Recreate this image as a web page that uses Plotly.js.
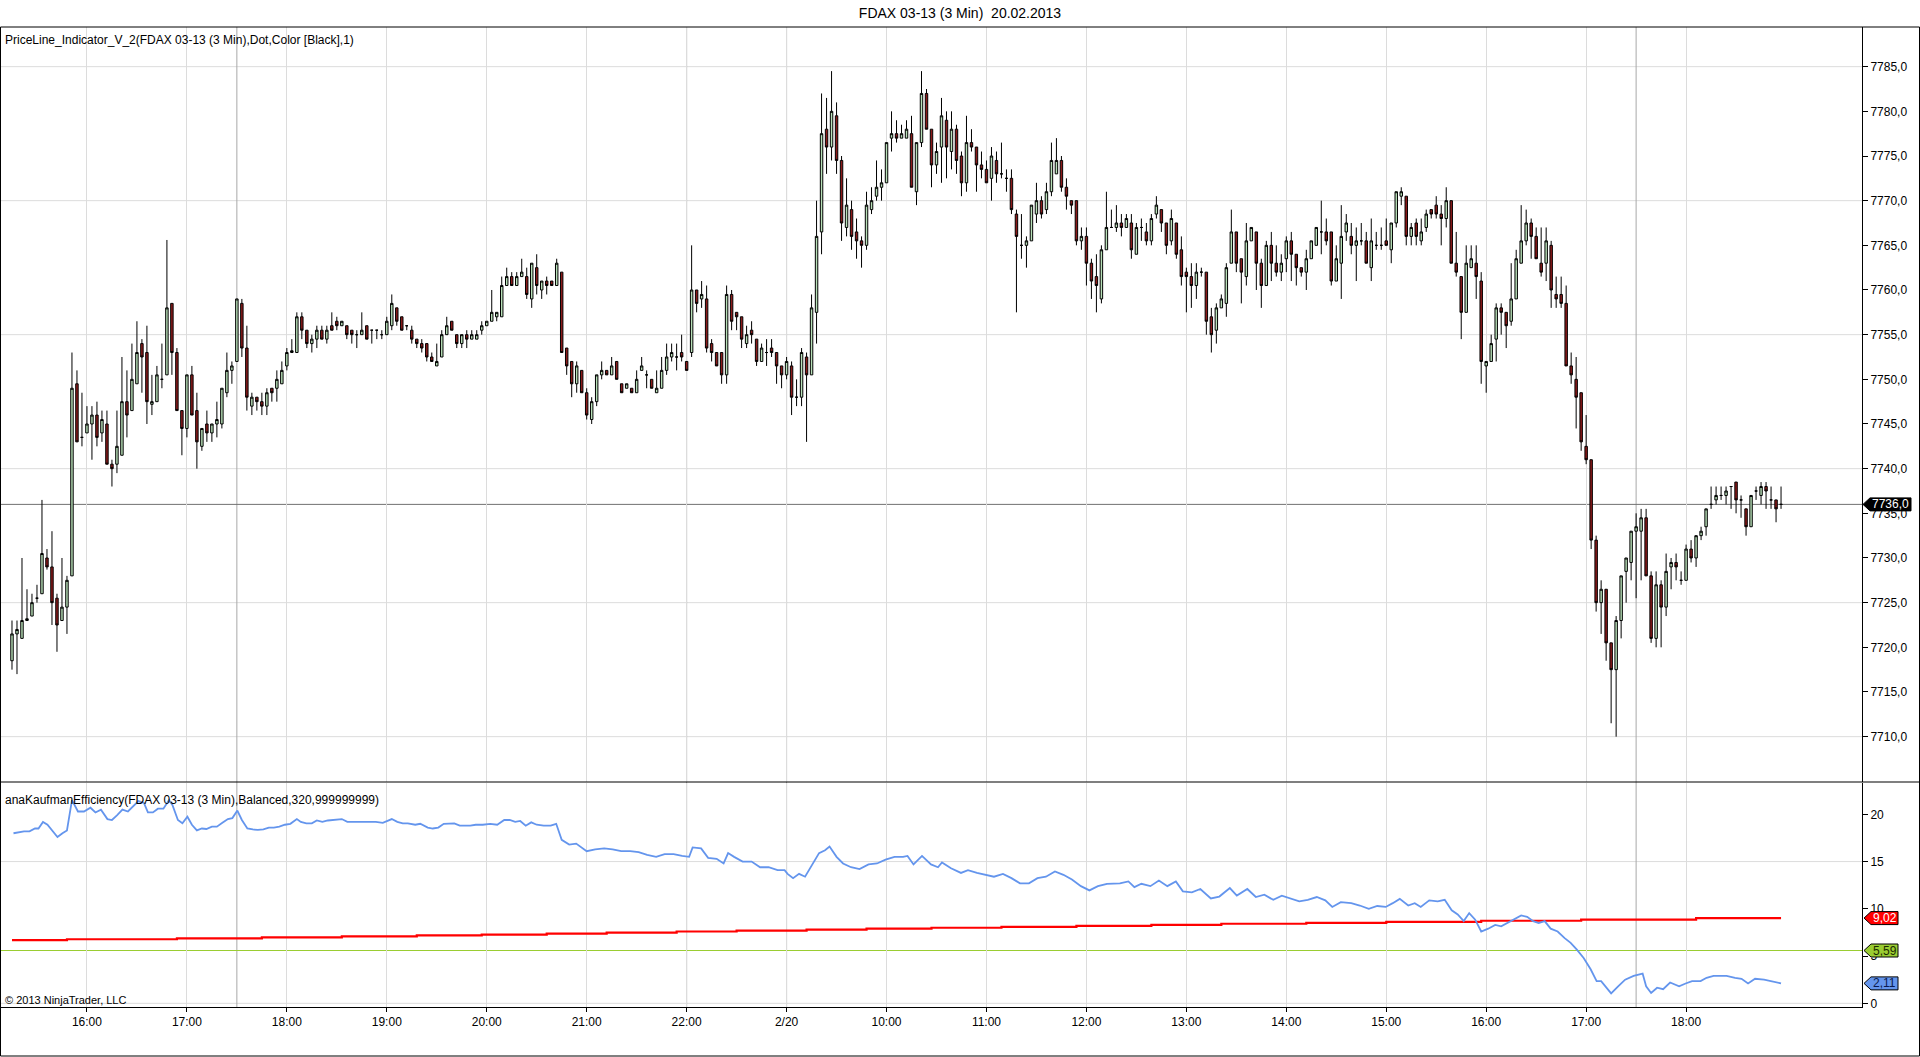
<!DOCTYPE html>
<html>
<head>
<meta charset="utf-8">
<script src="https://cdn.plot.ly/plotly-3.0.1.min.js"></script>
<style>
html,body{margin:0;padding:0;background:#fff;}
#chart{width:1920px;height:1057px;}
</style>
</head>
<body>
<div id="chart"></div>
<script>
// ---------- DATA ----------
const open = [
7718.5,7721.5,7721,7723,7723.5,7725.5,7726,7730,7729,7725.5,
7723,7724.5,7728,7749.5,7743.5,7744,7745,7746,7744,7745,
7740.5,7740.5,7741.5,7747.5,7746.5,7749.5,7754,7753,7747.2,7747.5,
7750,7750.5,7758.5,7753,7746.5,7744.5,7750.5,7746.5,7742.5,7745,
7744,7745,7745,7748.5,7751,7752,7758.5,7753.5,7747,7748,
7747.5,7747,7749,7749,7749.5,7751.5,7753,7753,7757,7755.5,
7754,7754.5,7755.5,7754.5,7756,7756.5,7756,7756,7755.5,7755,
7755,7756,7755.5,7755.5,7755,7755,7756,7758,7757,7756,
7755.5,7754.5,7754,7754,7752.5,7751.5,7752.5,7755,7756.5,7755,
7754,7755,7754.5,7754.5,7755.5,7756,7756.5,7757,7757,7760.5,
7761.5,7760.5,7761.5,7761.5,7759,7762.5,7760,7761,7761,7760.5,
7762,7753.5,7752,7749.5,7751,7748.5,7745.5,7747.5,7750.5,7751,
7750.5,7752,7749.5,7749,7749,7748.5,7751,7750.5,7750,7748.5,
7749,7751,7752.5,7752.5,7753,7752,7753,7760,7759,7759,
7754,7753,7753,7750.5,7759.5,7757.5,7757,7754,7755.5,7754.5,
7752,7753,7753.5,7753,7751.5,7750.5,7751.5,7748,7748,7752.5,
7750.5,7757.5,7766.5,7778,7776,7779.5,7774.5,7767,7769,7766.5,
7765.5,7765,7769,7770.5,7771.5,7772,7777,7777.5,7777,7777,
7777.5,7771,7776.5,7782,7778,7774,7776,7779,7775.5,7778,
7775,7772,7776.5,7776,7774,7773.5,7772.5,7774.5,7773,7772.5,
7772.5,7768.5,7765,7765,7765.5,7768.5,7770,7769,7771,7773,
7774.5,7771.5,7770,7770,7765.5,7766,7763,7761.5,7759,7764.5,
7767,7767,7767.5,7767,7767.5,7764,7767,7766.5,7765.5,7768.5,
7769,7767.5,7765.5,7767.5,7764.5,7762,7761.5,7760.5,7762,7762,
7757,7755.5,7758,7758.5,7763,7766.5,7763.5,7761.5,7765.5,7766.5,
7763,7760.5,7765,7763,7762,7763.5,7765.5,7764,7762.5,7762,
7763.5,7765,7766.5,7766.5,7766.5,7761,7763,7766.5,7766,7765,
7765.5,7765.5,7762.5,7765,7765,7765.5,7764.5,7767.5,7770.5,7770.5,
7766,7767.5,7765.5,7767,7769,7769.5,7768.5,7768,7770,7763,
7761.5,7757.5,7762.5,7763,7761,7751.5,7752,7754.5,7758,7757.5,
7756.5,7759,7763,7765.5,7767.5,7766,7763,7763,7765,7759.5,
7759.5,7758.5,7751.5,7750,7748.5,7742.5,7741,7732,7725,7726.5,
7720.5,7717.5,7723,7728.5,7729.5,7733,7733,7734.5,7728,7721,
7727,7724.5,7729,7729.5,7727.5,7727.5,7731,7730,7732.5,7733.5,
7736,7736.5,7737,7737,7738,7738.5,7736.5,7735.5,7733.5,7737.5,
7737,7738,7736.5,7736.5,7736
];
const high = [
7723,7723,7730,7726.5,7726,7727,7736.5,7731,7733,7726,
7730,7728,7753,7751,7748.5,7747,7747,7747.5,7746.5,7746.5,
7741,7746.5,7752.5,7751,7754,7756.5,7754.5,7756,7750.5,7751.5,
7754,7765.6,7758.5,7753.5,7746.5,7750.5,7751.5,7748.5,7744.5,7746.5,
7745,7747.5,7749,7753,7752,7759,7759,7756,7748.5,7748,
7748.5,7749,7749,7751,7752,7753.5,7754.5,7757.5,7757.5,7755.5,
7755,7756,7756,7756,7757.5,7757,7756.5,7756,7755.5,7755.5,
7757.5,7756,7755.5,7755.5,7755.5,7757,7759.5,7758,7757,7756,
7756,7754.5,7754.5,7754,7753,7754,7755.5,7757,7756.5,7755,
7755,7755.5,7755.5,7755.5,7756.5,7756.5,7760,7757.5,7761.5,7762.5,
7762,7762,7763.5,7762.5,7763,7764,7761,7761.5,7761,7763.5,
7762,7753.5,7752,7752,7751,7749,7748,7750.5,7752,7751,
7752.5,7752,7749.5,7749.5,7749,7751,7752.5,7751,7750,7751,
7752.5,7754,7754,7754,7755,7752,7765,7760,7761,7760.5,
7754.5,7753,7753,7760.5,7760,7757.5,7757,7756,7756.5,7754.5,
7754,7754.5,7754.5,7753,7751.5,7752.5,7752,7750,7753.5,7753,
7759.5,7770,7782,7781.5,7784.5,7781,7775,7772.5,7770,7768,
7766,7771,7771.5,7774.5,7773.5,7776.5,7780,7779,7778.5,7779,
7779.5,7776.5,7784.5,7782.5,7778,7776.5,7781.5,7780,7780,7778.5,
7775.5,7779.5,7778,7776,7775.5,7774.5,7776,7775.5,7776.5,7773.5,
7773.5,7769,7768.5,7766,7769.5,7772,7770.5,7772,7776.5,7777,
7775,7772.5,7770,7770,7767,7767,7763.5,7764,7765,7771,
7769,7769.5,7768.5,7768.5,7768.5,7767.5,7768,7767.5,7768.5,7770.5,
7769,7767.5,7769,7767.5,7766,7762.5,7763,7763,7762.5,7762,
7758,7758.5,7759.5,7763,7769,7766.5,7763.5,7767.5,7767,7766.5,
7763.5,7765.5,7766.5,7765,7764,7766,7766.5,7764,7762.5,7764.5,
7765.5,7767,7770,7768,7766.5,7765,7769.5,7768.5,7767.5,7767,
7767.5,7766.5,7768,7766.5,7767,7768,7767.5,7771,7771.5,7770.5,
7767.5,7768,7768,7769,7769,7770.5,7769.5,7771.5,7770,7766.5,
7761.5,7765,7765,7765,7762,7752,7755,7758.5,7758.5,7757.5,
7763,7764.5,7769.5,7769,7768,7767,7767,7767,7765.5,7761.5,
7761.5,7760.5,7753,7752.5,7748.5,7746,7741,7732.5,7727.5,7726.5,
7720.5,7723.5,7728,7730,7733,7735,7735.5,7735.5,7728.5,7728.5,
7727.5,7730.5,7730,7730.5,7728.5,7731.5,7732,7732.5,7733.5,7735.5,
7738,7738,7738,7738,7738,7738.5,7737,7735.5,7737,7738,
7738.5,7738.5,7738,7736.5,7738
];
const low = [
7717.5,7717,7721,7723,7723.5,7725,7726,7728.7,7722.5,7719.5,
7723,7721.5,7728,7743,7742.5,7744,7741,7742.5,7743,7740.5,
7738,7739.5,7741.5,7743.5,7746.5,7749.5,7748.5,7745,7746,7747.5,
7749,7750.5,7750.5,7746.5,7741.5,7743.5,7746,7740,7742,7743,
7743,7743.5,7744.5,7748,7749.5,7752,7752.5,7746.5,7746,7746.5,
7746,7746,7747.5,7747.5,7749.5,7751,7753,7753,7754.5,7753.5,
7753,7753.5,7754.5,7754,7755.5,7755.5,7756,7754.5,7754,7753.5,
7755,7754.5,7754,7754.5,7754.5,7755,7755.5,7756,7755.5,7755.5,
7754,7753.5,7753,7752,7752,7751.5,7752.5,7755,7755.5,7753.5,
7753.5,7753.5,7754.5,7754.5,7755,7756,7756.5,7756.5,7757,7760.5,
7760.5,7760.5,7761.5,7759,7758,7759.5,7759,7759.5,7760.5,7760.5,
7753,7750.5,7748,7748.5,7748.5,7745.5,7745,7747,7750,7750.5,
7750.5,7750,7748.5,7749,7748.5,7748.5,7751,7749,7749,7748.5,
7749,7750.5,7752,7751,7752,7751,7752.5,7757.5,7758,7753,
7752,7751.5,7749.5,7749.5,7755.5,7755.5,7753.5,7753.5,7754,7751.5,
7752,7751.5,7752.5,7749.5,7749,7750,7746,7747,7747,7743,
7750.5,7754,7764,7773,7774.5,7773,7765.5,7766,7764.5,7763.5,
7762.5,7764.5,7768.5,7770,7770,7772,7775.5,7776.5,7777,7777,
7771.5,7769.5,7776,7778,7771.5,7773,7772,7772.5,7773.5,7773,
7770.5,7771,7775.5,7771,7772.5,7772,7770,7772,7772.5,7771,
7768.5,7757.5,7763.5,7762.5,7765.5,7767.5,7768,7768.5,7770.5,7773,
7771,7769,7768.5,7765,7764.5,7760.5,7759,7757.5,7758.5,7764.5,
7767,7766.5,7766,7767,7763.5,7764,7765.5,7765,7765,7768,
7766.5,7764,7765,7763.5,7760.5,7757.5,7758,7759,7761.5,7755,
7753,7754,7758,7757,7763,7762,7758.5,7760.5,7765.5,7760,
7758,7760.5,7761,7761.5,7761,7762,7761,7760.5,7761.5,7760,
7763.5,7765,7764,7765,7760.5,7761,7759,7765.5,7764,7761,
7765,7763,7761,7764.5,7764.5,7765,7763,7767,7769.5,7765,
7765,7765,7765,7766.5,7768,7768,7765,7767,7763,7761.5,
7754.5,7757.5,7762.5,7759,7749.5,7748.5,7752,7752,7755,7753.5,
7756,7759,7763,7765,7763.5,7763.5,7761.5,7761,7758,7758,
7758,7751.5,7749.5,7744.5,7742,7740.5,7731,7724,7721.5,7718.5,
7711.5,7710,7721,7725,7727.5,7725.5,7727.5,7728,7720.5,7720,
7720,7723.5,7726.5,7727.5,7727,7727.5,7729.5,7729,7732,7732.5,
7735.5,7736,7736.5,7736,7735.5,7735,7734.5,7732.5,7733.5,7736.5,
7736,7735.5,7735.5,7734,7735.5
];
const close = [
7721.5,7722,7723,7723.2,7725,7725.5,7730.5,7729,7725,7722.5,
7724.5,7727.5,7749,7743,7743.5,7745,7746,7743.5,7745.5,7740.5,
7740,7742.5,7747.5,7746,7750,7753,7752.5,7747.5,7747.5,7750.5,
7750,7758,7753,7746.5,7744.5,7750.5,7746,7743,7744.5,7744,
7745,7745.5,7749,7751,7751.5,7759,7753.5,7748,7748,7747.5,
7747,7748.5,7748.5,7750,7751,7753,7753.2,7757,7755.5,7754,
7754.5,7755.5,7754.5,7755.5,7755.5,7756,7756.5,7755,7755,7755,
7755.5,7754.5,7755.5,7755.5,7755,7756.5,7758.5,7756.5,7755.5,7756,
7754.5,7754,7753.5,7752.5,7752,7752,7755,7756,7755.5,7754,
7755,7754.5,7755,7755,7756,7756.5,7757.5,7757.5,7760.5,7761.5,
7760.5,7761.5,7762,7759.5,7763,7760.5,7761,7760.5,7760.5,7763,
7753,7751.5,7749.5,7751.5,7748.5,7746,7747.5,7750.5,7751,7750.5,
7751.5,7750,7748.5,7749.5,7748.5,7750,7751.5,7750.5,7749,7749,
7751,7752.5,7753,7752.5,7752.5,7751,7760,7758.5,7759.5,7753.5,
7753,7751.5,7750.5,7759.5,7756.5,7757,7754.5,7755,7755,7752,
7753.5,7753,7753,7751.5,7750.5,7752,7748,7748,7753,7750.5,
7758,7766,7777.5,7776,7780,7774.5,7767.5,7769.5,7766,7765.5,
7765,7769.5,7770,7771.5,7772,7776.5,7777.5,7777,7777.5,7778,
7771.5,7776.5,7782,7778,7774,7775.5,7779.5,7776,7778,7774.5,
7772,7776.5,7776,7774,7773.5,7772,7775,7773,7773,7772.5,
7769,7766,7765,7765.5,7769.5,7770,7768.5,7771,7774.5,7774.5,
7771.5,7770.5,7769.5,7765.5,7766,7763,7761,7760.5,7764.5,7767,
7767,7767.5,7767,7768,7764.5,7767,7767,7765.5,7768,7769.5,
7767.5,7765,7768,7764,7761.5,7761.5,7760.5,7762,7762,7756.5,
7755,7758,7759,7762.5,7766.5,7763,7762,7765.5,7767,7763,
7760.5,7765,7763,7762,7763,7765.5,7764,7762.5,7762,7763.5,
7765.5,7767,7766.5,7765.5,7761,7763.5,7766,7767.5,7765,7765.5,
7765.5,7763,7765.5,7765,7765,7765,7767.5,7771,7771,7766,
7767,7766,7766.5,7768.5,7768.5,7768.5,7768,7770,7763,7762,
7757.5,7763,7763.5,7761.5,7752,7752,7754,7758,7757.5,7756,
7759,7763.5,7765.5,7767.5,7766,7763.5,7762,7765.5,7760,7759,
7758.5,7751.5,7750.5,7748,7743,7741,7732,7725,7726.5,7720.5,
7717.5,7723,7728,7730,7733,7733.5,7734.5,7728,7721,7727,
7724.5,7728.5,7729.5,7729,7727.5,7731,7730,7732.5,7733,7735.5,
7736,7737,7737,7737.5,7738,7736.5,7736.5,7733.5,7737,7737.5,
7738,7737.5,7736.5,7735.5,7736
];

// Kaufman efficiency (blue) sampled along the bar axis
const keIdx = [0.3,1.4,2.4,3.5,4.6,5.3,6.2,7.1,8.2,9.1,10.1,11,12,13.2,14.4,15.7,16.7,17.8,19.1,20,
21,22.1,23.2,24.1,25.3,26.4,27.2,28.2,29.2,30.3,31.4,32.1,33.2,34.1,35.1,36,37,38,38.9,40,
41,42.1,43.2,44.1,45.1,46,47.1,48.2,49.2,50.3,51.4,52.4,53.5,54.6,55.7,57,57.8,58.9,60,61,
62.1,63.2,64.6,66,67.1,68.5,70,71.4,72.8,74.2,76,77.1,78.2,79.2,80.7,81.7,83.2,84.2,85.3,86.4,
87.4,88.5,89.6,90.7,91.7,92.8,94.2,95.7,97.1,98.5,99.6,100.7,101.7,102.8,103.9,105,106.4,107.8,108.9,110,
111.5,112.9,115,116.7,118.5,120.2,121.9,123.7,125.4,127.1,128.9,130.6,132.4,134.1,135.5,136.2,137.9,139.3,141,142.4,
143.3,144.5,146.2,148,149.7,151.4,153.2,154.6,155.2,156.3,157.5,158.7,160.1,161.5,162.7,163.6,165,166.3,167.9,169.6,
171.4,173.1,174.8,176.6,178.3,179.2,180.4,182.1,183.9,185.3,186.1,187.9,189.9,191.3,193.1,194.8,196.5,198.3,200,201.7,
203.5,205.2,206.9,208.7,210.4,212.1,213.9,215.6,217.3,219.1,221.7,223.4,224.6,226,227.8,229.5,231.2,232.9,234.3,236.1,
237.8,239.9,241.6,243.7,245.1,247.2,248.9,250.6,252.4,254.1,255.9,257.6,259.3,261.1,262.8,264.2,265.9,268,269.7,271.5,
273.2,274.9,276.3,277.7,279.4,280.7,281.9,283.6,285.3,286.7,288.1,289.3,290.5,291.6,292.8,294,295.4,296.8,298,299.2,
300.6,302,303.2,304.4,305.5,306.7,307.9,309.3,310.7,311.9,313.1,314.5,315.9,317.1,318,318.8,320,321.4,322.8,324.5,
326.3,327,328,329.2,330.4,331.8,333.6,334.9,336.2,337.9,339.1,340.5,343.1,344.8,346.1,347.4,348.8,350.6,351.8,354];
const keVal = [18,18.1,18.2,18.2,18.5,18.5,19.2,18.9,18.2,17.6,18,18.3,21.5,20.3,20.3,20.7,20.2,20.5,19.5,19.4,
19.9,20.5,20.3,20.8,21.4,21.2,20.2,20.2,20.6,20.6,21.5,21,19.4,19.05,19.75,18.9,18.3,18.5,18.45,18.7,
18.7,19.1,19.5,19.6,20.4,19.4,18.5,18.4,18.35,18.4,18.6,18.6,18.7,18.9,19,19.5,19.2,19.05,19.05,19.35,
19.2,19.35,19.4,19.5,19.2,19.2,19.2,19.15,19.2,19.1,19.5,19.2,19.05,19.05,18.9,19,18.6,18.5,18.6,19,
19.05,19.05,18.8,18.8,18.8,18.9,18.9,19,18.9,19.4,19.4,19.2,19.3,18.8,19.15,18.9,18.8,18.8,19,17.3,
16.8,16.9,16.1,16.3,16.4,16.3,16.1,16.1,16,15.7,15.5,15.8,15.8,15.6,15.5,16.5,16.4,15.4,15.3,14.8,
15.9,15.5,15,15,14.4,14.4,14.1,14.1,13.7,13.25,13.7,13.4,14.7,15.9,16.2,16.6,15.5,14.8,14.4,14.2,
14.7,14.8,15.2,15.5,15.5,15.6,14.7,15.6,14.7,14.4,14.9,14.3,13.8,14.1,13.8,13.6,13.4,13.7,13.25,12.7,
12.7,13.25,13.4,13.95,13.6,13.1,12.4,11.95,12.4,12.65,12.7,12.9,12.3,12.65,12.4,13,12.4,12.9,11.85,11.75,
12.1,11.1,11.3,12.2,11.4,12.1,11.25,11.5,10.95,11.4,11.05,10.8,10.95,11.25,10.9,10.2,10.7,10.6,10.35,10,
10.3,10.2,10.6,11.05,10.35,10.6,10.2,10.9,10.8,10.95,9.85,9.4,8.7,9.55,8.85,7.6,7.9,8.3,8.15,8.5,
8.9,9.3,9.15,8.7,8.5,8.7,7.9,7.6,6.9,6.4,5.7,4.8,3.6,2.35,2.35,1.8,1.05,1.8,2.5,2.9,
3.15,1.8,1.1,1.65,1.5,2.2,1.8,2.1,2.35,2.35,2.7,2.9,2.9,2.7,2.6,2.1,2.6,2.5,2.35,2.11];

// Red step line (bar index where each level starts)
const redIdx = [0,11,33,50,66,81,94,107,119,133,145,159,171,184,198,213,228,242,259,275,294,314,337,354];
const redVal = [6.68,6.78,6.88,6.98,7.08,7.18,7.28,7.38,7.48,7.6,7.7,7.8,7.9,8.0,8.1,8.2,8.3,8.42,8.52,8.62,8.74,8.86,9.02,9.02];

const greenLevel = 5.59;
const lastPrice = 7736.0;
const lastKE = 2.11, lastRed = 9.02;

const tickIdx  = [15,35,55,75,95,115,135,155,175,195,215,235,255,275,295,315,335];
const tickText = ['16:00','17:00','18:00','19:00','20:00','21:00','22:00','2/20','10:00','11:00','12:00','13:00','14:00','15:00','16:00','17:00','18:00'];
const priceTicks = [7710,7715,7720,7725,7730,7735,7740,7745,7750,7755,7760,7765,7770,7775,7780,7785];
const keTicks = [0,5,10,15,20];
const sessionIdx = [45,135,155,325];
const priceGrid = [7710,7725,7740,7755,7770,7785];
const keGrid = [0,15];

// ---------- CHART ----------
const barIdx = close.map((_, i) => i);
const FONT = 'Liberation Sans, Arial, sans-serif';
const W = 1920, H = 1057, ML = 1, MR = 58, MT = 27, MB = 50;
const PW = W - ML - MR, PH = H - MT - MB;
const px = p => (p - ML) / PW;          // pixel x -> paper x
const py = p => (H - MB - p) / PH;      // pixel y -> paper y

const traces = [
  {
    type: 'candlestick', x: barIdx, open: open, high: high, low: low, close: close,
    xaxis: 'x', yaxis: 'y', whiskerwidth: 0, hoverinfo: 'skip',
    increasing: {line: {color: '#000000', width: 1}, fillcolor: '#b8e0b8'},
    decreasing: {line: {color: '#000000', width: 1}, fillcolor: '#8b1a1a'}
  },
  {
    type: 'scatter', mode: 'lines', x: redIdx, y: redVal, xaxis: 'x', yaxis: 'y2',
    line: {color: '#ff0000', width: 2.2, shape: 'hv'}, hoverinfo: 'skip'
  },
  {
    type: 'scatter', mode: 'lines', x: keIdx, y: keVal, xaxis: 'x', yaxis: 'y2',
    line: {color: '#6495ed', width: 1.8}, hoverinfo: 'skip'
  }
];

const shapes = [];
priceGrid.forEach(v => shapes.push({type: 'line', xref: 'paper', yref: 'y', x0: 0, x1: 1, y0: v, y1: v,
  line: {color: '#dcdcdc', width: 1}, layer: 'below'}));
keGrid.forEach(v => shapes.push({type: 'line', xref: 'paper', yref: 'y2', x0: 0, x1: 1, y0: v, y1: v,
  line: {color: '#dcdcdc', width: 1}, layer: 'below'}));
sessionIdx.forEach(v => shapes.push({type: 'line', xref: 'x', yref: 'paper', x0: v, x1: v, y0: 0, y1: 1,
  line: {color: '#a8a8a8', width: 1}, layer: 'between'}));
// last price line and the green level
shapes.push({type: 'line', xref: 'paper', yref: 'y', x0: 0, x1: 1, y0: lastPrice, y1: lastPrice,
  line: {color: '#707070', width: 1}, layer: 'between'});
shapes.push({type: 'line', xref: 'paper', yref: 'y2', x0: 0, x1: 1, y0: greenLevel, y1: greenLevel,
  line: {color: '#9acd32', width: 1.2}, layer: 'between'});
// frame
shapes.push({type: 'rect', xref: 'paper', yref: 'paper', x0: px(0.5), x1: px(1919.5), y0: py(1056), y1: py(27),
  line: {color: '#000', width: 1}, fillcolor: 'rgba(0,0,0,0)', layer: 'above'});
shapes.push({type: 'line', xref: 'paper', yref: 'paper', x0: px(0), x1: px(1920), y0: py(782), y1: py(782),
  line: {color: '#000', width: 1.2}, layer: 'above'});

function tag(yref, yv, hUnits, tip, left, right, fill) {
  const path = `M ${px(tip)},${yv} L ${px(left)},${yv + hUnits} L ${px(right)},${yv + hUnits} ` +
               `L ${px(right)},${yv - hUnits} L ${px(left)},${yv - hUnits} Z`;
  shapes.push({type: 'path', xref: 'paper', yref: yref, path: path, fillcolor: fill,
    line: {color: '#000', width: 1}, layer: 'above'});
}
const pricePerPx = (7789.44 - 7704.98) / (781.5 - 27);
const kePerPx = 23.76 / 224.5;
tag('y', lastPrice, 6.5 * pricePerPx, 1863, 1870, 1911, '#000000');
tag('y2', lastRed, 6.5 * kePerPx, 1864, 1871, 1898, '#ff0000');
tag('y2', greenLevel, 6.5 * kePerPx, 1864, 1871, 1898, '#9acd32');
tag('y2', lastKE, 6.5 * kePerPx, 1864, 1871, 1898, '#6495ed');

const annotations = [
  {xref: 'paper', yref: 'paper', x: px(3), y: py(40), xanchor: 'left', yanchor: 'middle', showarrow: false,
   text: 'PriceLine_Indicator_V_2(FDAX 03-13 (3 Min),Dot,Color [Black],1)', font: {family: FONT, size: 12, color: '#000'}},
  {xref: 'paper', yref: 'paper', x: px(3), y: py(800), xanchor: 'left', yanchor: 'middle', showarrow: false,
   text: 'anaKaufmanEfficiency(FDAX 03-13 (3 Min),Balanced,320,999999999)', font: {family: FONT, size: 12, color: '#000'}},
  {xref: 'paper', yref: 'paper', x: px(3), y: py(1000), xanchor: 'left', yanchor: 'middle', showarrow: false,
   text: '© 2013 NinjaTrader, LLC', font: {family: FONT, size: 11, color: '#000'}},
  {xref: 'paper', yref: 'y', x: px(1890.5), y: lastPrice, xanchor: 'center', yanchor: 'middle', showarrow: false,
   text: lastPrice.toFixed(1).replace('.', ','), font: {family: FONT, size: 12, color: '#ffffff'}},
  {xref: 'paper', yref: 'y2', x: px(1884.5), y: lastRed, xanchor: 'center', yanchor: 'middle', showarrow: false,
   text: lastRed.toFixed(2).replace('.', ','), font: {family: FONT, size: 12, color: '#ffffff'}},
  {xref: 'paper', yref: 'y2', x: px(1884.5), y: greenLevel, xanchor: 'center', yanchor: 'middle', showarrow: false,
   text: greenLevel.toFixed(2).replace('.', ','), font: {family: FONT, size: 12, color: '#1a2a00'}},
  {xref: 'paper', yref: 'y2', x: px(1884.5), y: lastKE, xanchor: 'center', yanchor: 'middle', showarrow: false,
   text: lastKE.toFixed(2).replace('.', ','), font: {family: FONT, size: 12, color: '#0a1a50'}}
];

const layout = {
  width: W, height: H,
  margin: {l: ML, r: MR, t: MT, b: MB, pad: 0},
  paper_bgcolor: '#ffffff', plot_bgcolor: '#ffffff',
  font: {family: FONT, size: 12, color: '#000'},
  separators: ',.',
  showlegend: false, hovermode: false, dragmode: false,
  title: {text: 'FDAX 03-13 (3 Min)\u00a0 20.02.2013', x: 0.5, xanchor: 'center', y: 1 - 13 / H, yanchor: 'middle',
          font: {family: FONT, size: 14, color: '#000'}},
  xaxis: {
    domain: [0, 1], anchor: 'y2', range: [-2.2, 370.2], rangeslider: {visible: false},
    tickmode: 'array', tickvals: tickIdx, ticktext: tickText, ticks: 'outside', ticklen: 4, tickcolor: '#000',
    tickfont: {family: FONT, size: 12, color: '#000'},
    showgrid: true, gridcolor: '#dcdcdc', gridwidth: 1, zeroline: false,
    showline: true, linecolor: '#000', linewidth: 1, fixedrange: true
  },
  yaxis: {
    domain: [py(781.5), 1], side: 'right', range: [7704.98, 7789.44],
    tickmode: 'array', tickvals: priceTicks, ticktext: priceTicks.map(v => v.toFixed(1).replace('.', ',')),
    ticks: 'outside', ticklen: 5, tickcolor: '#000',
    tickfont: {family: FONT, size: 12, color: '#000'},
    showgrid: false, zeroline: false, showline: true, linecolor: '#000', linewidth: 1, fixedrange: true
  },
  yaxis2: {
    domain: [0, py(782.5)], side: 'right', range: [-0.39, 23.37], anchor: 'x',
    tickmode: 'array', tickvals: keTicks, ticks: 'outside', ticklen: 5, tickcolor: '#000',
    tickfont: {family: FONT, size: 12, color: '#000'},
    showgrid: false, zeroline: false, showline: true, linecolor: '#000', linewidth: 1, fixedrange: true
  },
  shapes: shapes,
  annotations: annotations
};

Plotly.newPlot('chart', traces, layout, {staticPlot: true, displayModeBar: false});
</script>
</body>
</html>
